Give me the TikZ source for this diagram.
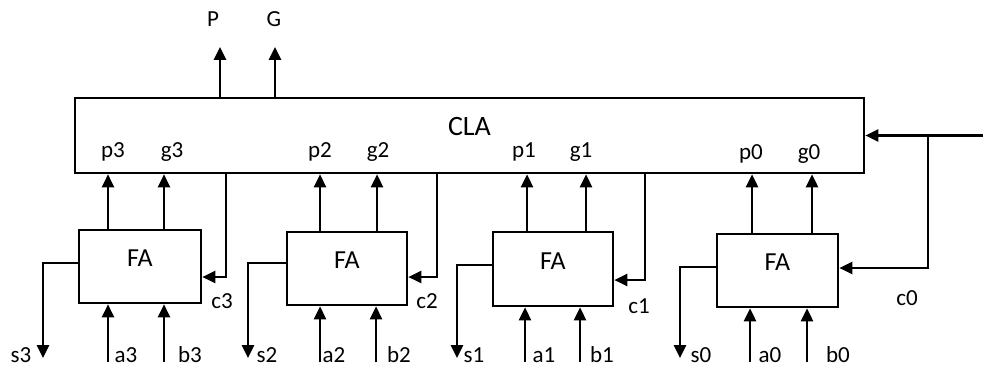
\documentclass[tikz,border=0pt]{standalone}
\usepackage{fontspec}
\setmainfont{Carlito}
\usetikzlibrary{arrows.meta}
\begin{document}
\begin{tikzpicture}[x=1pt,y=-1pt,
  wire/.style={line width=2.6pt},
  arr/.style={wire,-{Triangle[length=13pt,width=12pt]}},
  blk/.style={draw,line width=2.6pt,rectangle,inner sep=0pt,text height=14pt,text depth=14pt,font=\fontsize{26}{26}\selectfont},
  lbl/.style={font=\fontsize{23}{23}\selectfont,anchor=base,inner sep=0pt}]
\useasboundingbox (0,0) rectangle (983,369);

% blocks
\node[blk,minimum width=789pt,minimum height=75pt,font=\fontsize{28}{28}\selectfont] (CLA) at (469.5,135.5) {CLA};
\node[blk,minimum width=122pt,minimum height=73pt] (FA3) at (140,266.5) {FA};
\node[blk,minimum width=120pt,minimum height=73pt] (FA2) at (347,268.5) {FA};
\node[blk,minimum width=120pt,minimum height=74pt] (FA1) at (553,269) {FA};
\node[blk,minimum width=121pt,minimum height=73pt] (FA0) at (777.5,270.5) {FA};

% outputs P, G
\coordinate (Pout) at (220,47);
\coordinate (Gout) at (275,47);
\draw[arr] (CLA.north -| Pout) -- (Pout);
\draw[arr] (CLA.north -| Gout) -- (Gout);
\node[lbl] (Plbl) at (213,27) {P};
\node[lbl] (Glbl) at (274,27) {G};

% CLA port labels
\node[lbl] (p3l) at (113,157) {p3};
\node[lbl] (g3l) at (172,157) {g3};
\node[lbl] (p2l) at (320,157) {p2};
\node[lbl] (g2l) at (378,157) {g2};
\node[lbl] (p1l) at (524,157) {p1};
\node[lbl] (g1l) at (581,157) {g1};
\node[lbl] (p0l) at (751,159) {p0};
\node[lbl] (g0l) at (809,159) {g0};

% p/g arrows
\draw[arr] (FA3.north -| 108,0) -- (CLA.south -| 108,0);
\draw[arr] (FA3.north -| 164,0) -- (CLA.south -| 164,0);
\draw[arr] (FA2.north -| 320,0) -- (CLA.south -| 320,0);
\draw[arr] (FA2.north -| 377,0) -- (CLA.south -| 377,0);
\draw[arr] (FA1.north -| 527,0) -- (CLA.south -| 527,0);
\draw[arr] (FA1.north -| 586,0) -- (CLA.south -| 586,0);
\draw[arr] (FA0.north -| 752,0) -- (CLA.south -| 752,0);
\draw[arr] (FA0.north -| 812,0) -- (CLA.south -| 812,0);

% carries from CLA
\draw[arr] (CLA.south -| 226,0) |- ([yshift=-10.5pt]FA3.east);
\draw[arr] (CLA.south -| 437,0) |- ([yshift=-8.5pt]FA2.east);
\draw[arr] (CLA.south -| 645,0) |- ([yshift=-11pt]FA1.east);

% c0 input
\coordinate (c0in) at (983,135.5);
\coordinate (c0br) at (928,135.5);
\draw[arr] (c0in) -- (CLA.east);
\draw[arr] (c0br) |- ([yshift=2.5pt]FA0.east);

\node[lbl] (c3l) at (222,308) {c3};
\node[lbl] (c2l) at (427,308) {c2};
\node[lbl] (c1l) at (639,313) {c1};
\node[lbl] (c0l) at (907,305) {c0};

% sum outputs
\coordinate (s3end) at (43,358);
\coordinate (s2end) at (248,358);
\coordinate (s1end) at (457,358);
\coordinate (s0end) at (680,358);
\draw[arr] ([yshift=3.5pt]FA3.west) -| (s3end);
\draw[arr] ([yshift=5.5pt]FA2.west) -| (s2end);
\draw[arr] ([yshift=4pt]FA1.west) -| (s1end);
\draw[arr] ([yshift=3.5pt]FA0.west) -| (s0end);

% a/b inputs
\coordinate (a3in) at (108,362);
\coordinate (b3in) at (164,362);
\coordinate (a2in) at (320,362);
\coordinate (b2in) at (376,362);
\coordinate (a1in) at (525,362);
\coordinate (b1in) at (580,362);
\coordinate (a0in) at (750,362);
\coordinate (b0in) at (807,362);
\draw[arr] (a3in) -- (FA3.south -| a3in);
\draw[arr] (b3in) -- (FA3.south -| b3in);
\draw[arr] (a2in) -- (FA2.south -| a2in);
\draw[arr] (b2in) -- (FA2.south -| b2in);
\draw[arr] (a1in) -- (FA1.south -| a1in);
\draw[arr] (b1in) -- (FA1.south -| b1in);
\draw[arr] (a0in) -- (FA0.south -| a0in);
\draw[arr] (b0in) -- (FA0.south -| b0in);

% bottom labels
\node[lbl] (s3l) at (21,362) {s3};
\node[lbl] (a3l) at (126,362) {a3};
\node[lbl] (b3l) at (190,362) {b3};
\node[lbl] (s2l) at (267,362) {s2};
\node[lbl] (a2l) at (334,362) {a2};
\node[lbl] (b2l) at (399,362) {b2};
\node[lbl] (s1l) at (474,362) {s1};
\node[lbl] (a1l) at (544,362) {a1};
\node[lbl] (b1l) at (602,362) {b1};
\node[lbl] (s0l) at (701,362) {s0};
\node[lbl] (a0l) at (770,362) {a0};
\node[lbl] (b0l) at (838,362) {b0};
\end{tikzpicture}
\end{document}
